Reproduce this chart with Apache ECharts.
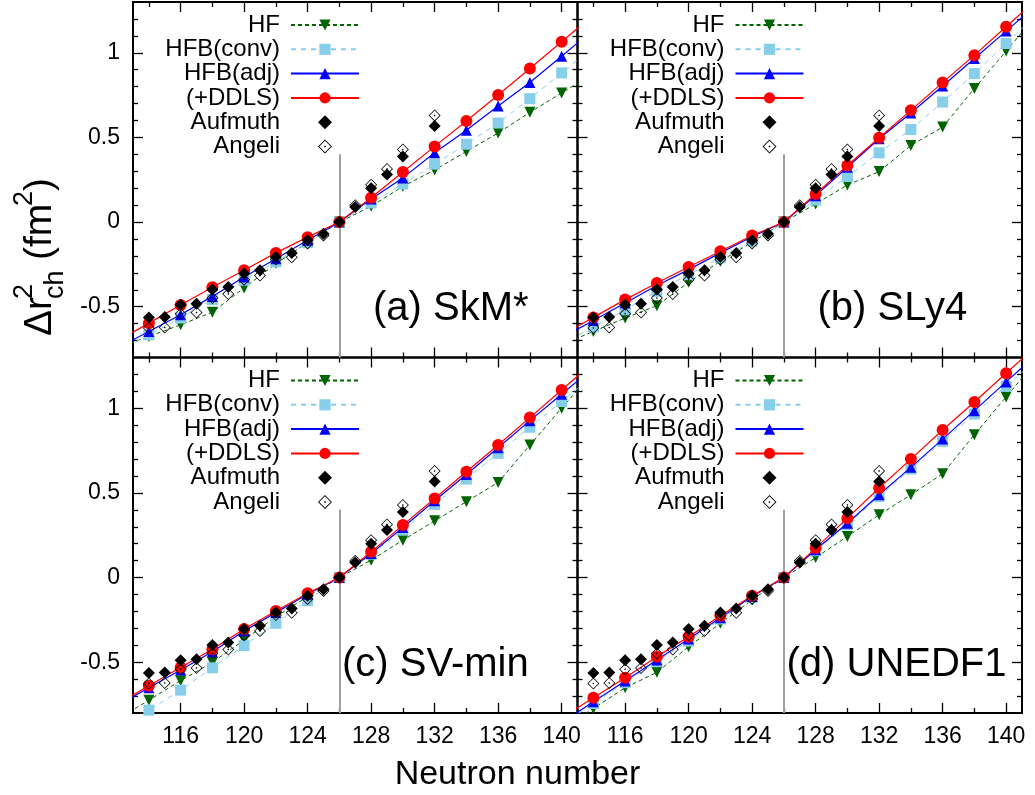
<!DOCTYPE html>
<html>
<head>
<meta charset="utf-8">
<script src="https://cdn.jsdelivr.net/npm/echarts@6/dist/echarts.min.js"></script>
<style>
  html, body { margin: 0; padding: 0; background: #fff; }
  #chart { width: 1035px; height: 795px; }
</style>
</head>
<body>
<div id="chart"></div>
<script>
// neutron numbers of the calculations (112 and 142 only carry the lines to the frame)
var calcN = [112, 114, 116, 118, 120, 122, 124, 126, 128, 130, 132, 134, 136, 138, 140, 142];
// neutron numbers of the measurements
var expN = [114, 115, 116, 117, 118, 119, 120, 121, 122, 123, 124, 125, 126, 127, 128, 129, 130, 132];

var aufmuth = [-0.563, -0.561, -0.488, -0.482, -0.399, -0.383, -0.304, -0.285, -0.206, -0.182, -0.107, -0.069, 0, 0.089, 0.200, 0.281, 0.387, 0.567];
var angeli  = [-0.626, -0.623, -0.542, -0.534, -0.449, -0.425, -0.340, -0.316, -0.221, -0.208, -0.126, -0.079, 0, 0.100, 0.221, 0.314, 0.429, 0.630];

// (a) SkM*
var skmHF   = [-0.745, -0.676, -0.607, -0.532, -0.389, -0.245, -0.122, 0, 0.093, 0.211, 0.308, 0.417, 0.526, 0.648, 0.763, 0.878];
var skmConv = [-0.765, -0.666, -0.567, -0.458, -0.344, -0.235, -0.122, 0, 0.113, 0.225, 0.342, 0.460, 0.585, 0.729, 0.881, 1.033];
var skmAdj  = [-0.745, -0.646, -0.547, -0.439, -0.324, -0.217, -0.107, 0, 0.136, 0.261, 0.409, 0.542, 0.686, 0.824, 0.980, 1.136];
var skmDDLS = [-0.704, -0.597, -0.490, -0.385, -0.285, -0.182, -0.089, 0, 0.144, 0.296, 0.447, 0.597, 0.751, 0.907, 1.065, 1.223];
// (b) SLy4
var slyHF   = [-0.725, -0.646, -0.567, -0.494, -0.356, -0.231, -0.119, 0, 0.107, 0.219, 0.298, 0.453, 0.561, 0.789, 1.010, 1.231];
var slyConv = [-0.722, -0.620, -0.518, -0.409, -0.310, -0.211, -0.113, 0, 0.130, 0.269, 0.409, 0.547, 0.709, 0.877, 1.055, 1.233];
var slyAdj  = [-0.684, -0.581, -0.478, -0.375, -0.281, -0.182, -0.087, 0, 0.156, 0.324, 0.492, 0.644, 0.804, 0.966, 1.128, 1.290];
var slyDDLS = [-0.668, -0.563, -0.458, -0.360, -0.265, -0.172, -0.079, 0, 0.166, 0.334, 0.498, 0.660, 0.824, 0.986, 1.154, 1.322];
// (c) SV-min
var svHF    = [-0.839, -0.724, -0.609, -0.501, -0.369, -0.231, -0.112, 0, 0.103, 0.221, 0.335, 0.448, 0.562, 0.783, 1.000, 1.217];
var svConv  = [-0.901, -0.783, -0.665, -0.533, -0.402, -0.270, -0.136, 0, 0.138, 0.280, 0.432, 0.582, 0.734, 0.888, 1.040, 1.192];
var svAdj   = [-0.756, -0.651, -0.546, -0.438, -0.316, -0.207, -0.099, 0, 0.142, 0.296, 0.454, 0.609, 0.767, 0.927, 1.083, 1.239];
var svDDLS  = [-0.747, -0.639, -0.531, -0.424, -0.304, -0.197, -0.093, 0, 0.152, 0.310, 0.467, 0.625, 0.783, 0.945, 1.108, 1.271];
// (d) UNEDF1
var unHF    = [-0.895, -0.773, -0.651, -0.560, -0.408, -0.270, -0.132, 0, 0.118, 0.243, 0.371, 0.489, 0.613, 0.844, 1.067, 1.290];
var unConv  = [-0.867, -0.744, -0.621, -0.497, -0.375, -0.245, -0.118, 0, 0.158, 0.312, 0.479, 0.641, 0.805, 0.966, 1.130, 1.294];
var unAdj   = [-0.857, -0.734, -0.611, -0.487, -0.363, -0.237, -0.112, 0, 0.164, 0.321, 0.489, 0.651, 0.818, 0.986, 1.156, 1.326];
var unDDLS  = [-0.828, -0.710, -0.592, -0.467, -0.349, -0.225, -0.107, 0, 0.174, 0.351, 0.529, 0.700, 0.872, 1.037, 1.207, 1.377];

var panelLabels = ['(a) SkM*', '(b) SLy4', '(c) SV-min', '(d) UNEDF1'];
var panelData = [
    [skmHF, skmConv, skmAdj, skmDDLS],
    [slyHF, slyConv, slyAdj, slyDDLS],
    [svHF, svConv, svAdj, svDDLS],
    [unHF, unConv, unAdj, unDDLS]
];
var seriesNames = ['HF', 'HFB(conv)', 'HFB(adj)', '(+DDLS)', 'Aufmuth', 'Angeli'];

var xMajor = [116, 120, 124, 128, 132, 136, 140];
var xMinor = [114, 118, 122, 126, 130, 134, 138];
var yMajor = [-0.5, 0, 0.5, 1];
var yMinor = [-0.7, -0.6, -0.4, -0.3, -0.2, -0.1, 0.1, 0.2, 0.3, 0.4, 0.6, 0.7, 0.8, 0.9, 1.1, 1.2];

var FONT = 'Liberation Sans';

// panel boxes in px
var boxes = [
    { left: 133, top: 2 },
    { left: 577.5, top: 2 },
    { left: 133, top: 357.5 },
    { left: 577.5, top: 357.5 }
];
var boxW = 444.5, boxH = 355.5;
var labelLeft = [240, 240, 209, 209];

var chart = echarts.init(document.getElementById('chart'));

var grids = [], xAxes = [], yAxes = [], series = [], legends = [], graphics = [];

function pairs(xs, ys) {
    return xs.map(function (x, k) { return [x, ys[k]]; });
}

var styles = [
    { symbol: 'triangle', rotate: 180, size: 11, color: '#006400', line: { color: '#006400', width: 1, type: [4, 3] } },
    { symbol: 'rect', rotate: 0, size: 11, color: '#87ceeb', line: { color: '#87ceeb', width: 1, type: [5, 5] } },
    { symbol: 'triangle', rotate: 0, size: 11, color: '#0000ff', line: { color: '#0000ff', width: 1.2, type: 'solid' } },
    { symbol: 'circle', rotate: 0, size: 12, color: '#ff0000', line: { color: '#ff0000', width: 1.2, type: 'solid' } }
];
var solidDiamond = 'path://M0,-10L10,0L0,10L-10,0Z';
var openDiamond = 'path://M0,-10L10,0L0,10L-10,0ZM0,-8.2L-8.2,0L0,8.2L8.2,0ZM0,-1.6L1.6,0L0,1.6L-1.6,0Z';

boxes.forEach(function (b, i) {
    grids.push({
        left: b.left, top: b.top, width: boxW, height: boxH,
        show: true, borderColor: '#000', borderWidth: 2, backgroundColor: 'transparent'
    });
    var bottomRow = i >= 2, leftCol = i % 2 === 0;
    function xAx(pos, ticks, len, labels) {
        return {
            gridIndex: i, type: 'value', min: 113, max: 141, position: pos,
            axisLine: { show: false, onZero: false }, splitLine: { show: false },
            axisTick: { show: true, inside: true, length: len, customValues: ticks, lineStyle: { color: '#000', width: 1.3 } },
            axisLabel: { show: labels, customValues: ticks, color: '#000', fontSize: 23, fontFamily: FONT, margin: 12 }
        };
    }
    function yAx(pos, ticks, len, labels) {
        return {
            gridIndex: i, type: 'value', min: -0.8, max: 1.3, position: pos,
            axisLine: { show: false, onZero: false }, splitLine: { show: false },
            axisTick: { show: true, inside: true, length: len, customValues: ticks, lineStyle: { color: '#000', width: 1.3 } },
            axisLabel: { show: labels, customValues: ticks, color: '#000', fontSize: 23, fontFamily: FONT, margin: 13 }
        };
    }
    var xi = xAxes.length, yi = yAxes.length;
    xAxes.push(xAx('bottom', xMajor, 10, bottomRow), xAx('bottom', xMinor, 5, false),
               xAx('top', xMajor, 10, false), xAx('top', xMinor, 5, false));
    yAxes.push(yAx('left', yMajor, 10, leftCol), yAx('left', yMinor, 5, false),
               yAx('right', yMajor, 10, false), yAx('right', yMinor, 5, false));

    panelData[i].forEach(function (vals, s) {
        var st = styles[s];
        var ser = {
            name: seriesNames[s], type: 'line', xAxisIndex: xi, yAxisIndex: yi,
            data: pairs(calcN, vals), clip: true, z: 3 + s,
            symbol: st.symbol, symbolSize: st.size, symbolRotate: st.rotate, showAllSymbol: true,
            itemStyle: { color: st.color },
            lineStyle: st.line
        };
        if (s === 0) {
            ser.markLine = {
                silent: true, symbol: 'none', z: 1, animation: false,
                label: { show: false },
                lineStyle: { color: '#a0a0a0', width: 2, type: 'solid' },
                data: [[{ coord: [126, -0.8] }, { coord: [126, 0.4] }]]
            };
        }
        series.push(ser);
    });
    series.push({
        name: 'Aufmuth', type: 'scatter', xAxisIndex: xi, yAxisIndex: yi, z: 8,
        data: pairs(expN, aufmuth), symbol: solidDiamond, symbolSize: 12, symbolKeepAspect: true,
        itemStyle: { color: '#000', opacity: 1 }
    });
    series.push({
        name: 'Angeli', type: 'scatter', xAxisIndex: xi, yAxisIndex: yi, z: 9,
        data: pairs(expN, angeli), symbol: openDiamond, symbolSize: 12, symbolKeepAspect: true,
        itemStyle: { color: '#000', opacity: 1 }
    });

    legends.push({
        orient: 'vertical', align: 'right', selectedMode: false, symbolKeepAspect: true,
        right: 1035 - (b.left + 227) - 5, top: b.top + 6,
        itemWidth: 68, itemHeight: 14, itemGap: 0.3, padding: 5,
        textStyle: { fontSize: 24, fontFamily: FONT, color: '#000', lineHeight: 24, padding: [0, 6, 0, 0] },
        data: seriesNames
    });

    graphics.push({
        type: 'text', left: b.left + labelLeft[i], top: b.top + 306 - 19,
        style: { text: panelLabels[i], font: '40px "' + FONT + '"', fill: '#000' }
    });
});

// axis titles
graphics.push({
    type: 'text', left: 'center', top: 758,
    style: { text: 'Neutron number', font: '34px "' + FONT + '"', fill: '#000' }
});
graphics.push({
    type: 'group', x: 60, y: 336, rotation: Math.PI / 2,
    children: [
        { type: 'text', x: 0, y: 0, style: { text: '\u0394r', font: '39px "' + FONT + '"', fill: '#000', textVerticalAlign: 'bottom' } },
        { type: 'text', x: 37, y: -22, style: { text: '2', font: '27px "' + FONT + '"', fill: '#000', textVerticalAlign: 'bottom' } },
        { type: 'text', x: 37, y: 9, style: { text: 'ch', font: '27px "' + FONT + '"', fill: '#000', textVerticalAlign: 'bottom' } },
        { type: 'text', x: 76, y: 0, style: { text: '(fm', font: '39px "' + FONT + '"', fill: '#000', textVerticalAlign: 'bottom' } },
        { type: 'text', x: 130, y: -22, style: { text: '2', font: '27px "' + FONT + '"', fill: '#000', textVerticalAlign: 'bottom' } },
        { type: 'text', x: 145, y: 0, style: { text: ')', font: '39px "' + FONT + '"', fill: '#000', textVerticalAlign: 'bottom' } }
    ]
});

chart.setOption({
    animation: false,
    backgroundColor: '#fff',
    grid: grids,
    xAxis: xAxes,
    yAxis: yAxes,
    legend: legends,
    series: series,
    graphic: graphics
});
</script>
</body>
</html>
